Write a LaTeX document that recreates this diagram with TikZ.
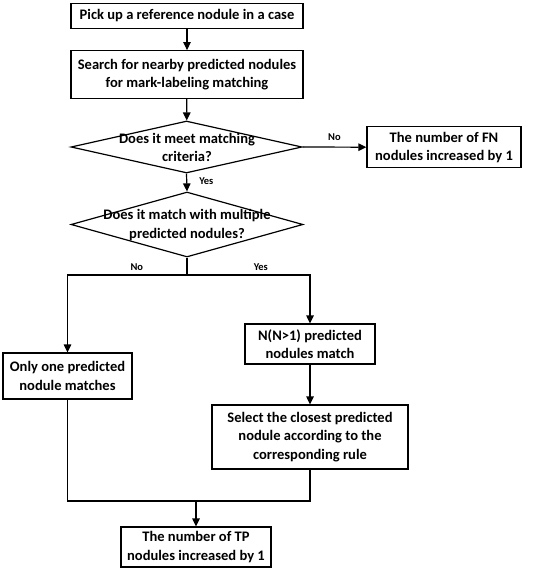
\documentclass[tikz,border=0pt]{standalone}
\usepackage{fontspec}
\setmainfont{Carlito}
\usetikzlibrary{shapes.geometric,arrows.meta}
\begin{document}
\begin{tikzpicture}[x=1bp,y=-1bp,
  every node/.style={font=\bfseries\fontsize{14.6}{18.3}\selectfont},
  box/.style={draw,line width=1.2bp,align=center,inner sep=0pt},
  dia/.style={draw,diamond,line width=1.2bp,inner sep=0pt},
  txt/.style={align=center,inner sep=0pt},
  lbl/.style={font=\bfseries\fontsize{10.5}{11}\selectfont,inner sep=0pt},
  line/.style={line width=1.2bp},
  arr/.style={line width=1.2bp,-{Triangle[length=8bp,width=7.5bp]}}]
\useasboundingbox (0,0) rectangle (546,569);
\node[box,minimum width=232bp,minimum height=25bp] (b1) at (187,15.7) {Pick up a reference nodule in a case};
\node[box,minimum width=232bp,minimum height=47.6bp] (b2) at (187,74.5) {Search for nearby predicted nodules\\for mark-labeling matching};
\node[dia,minimum width=231bp,minimum height=52bp] (d1) at (186.5,147) {};
\node[txt] (t1) at (187,147.5) {Does it meet matching\\criteria?};
\node[box,minimum width=154bp,minimum height=41bp] (fn) at (444,147.2) {The number of FN\\nodules increased by 1};
\node[dia,minimum width=232bp,minimum height=65bp] (d2) at (187,224.5) {};
\node[txt] (t2) at (187,225) {Does it match with multiple\\predicted nodules?};
\node[box,minimum width=130bp,minimum height=40bp] (nb) at (310,344) {N(N>1) predicted\\nodules match};
\node[box,minimum width=129bp,minimum height=46bp] (ob) at (67.5,376) {Only one predicted\\nodule matches};
\node[box,minimum width=196bp,minimum height=64bp] (sb) at (310,437) {Select the closest predicted\\nodule according to the\\corresponding rule};
\node[box,minimum width=150bp,minimum height=40bp] (tp) at (196,547) {The number of TP\\nodules increased by 1};
\coordinate (split) at (187,275);
\coordinate (join) at (196,501);
\draw[arr] (b1) -- (b2);
\draw[arr] (b2) -- (d1);
\draw[arr] (d1.east) -- node[lbl,above=6bp,pos=0.5] (no1) {No} (fn.west);
\draw[arr] (d1.south) -- node[lbl,right=12bp,pos=0.45] (yes1) {Yes} (d2.north);
\draw[line] (d2.south) -- (split);
\draw[arr] (split) -| node[lbl,above=4bp,pos=0.21] (no2) {No} (ob.north);
\draw[arr] (split) -| node[lbl,above=4bp,pos=0.3] (yes2) {Yes} (nb.north);
\draw[arr] (nb) -- (sb);
\draw[line] (ob.south) |- (join);
\draw[line] (sb.south) |- (join);
\draw[arr] (join) -- (tp.north);
\end{tikzpicture}
\end{document}
